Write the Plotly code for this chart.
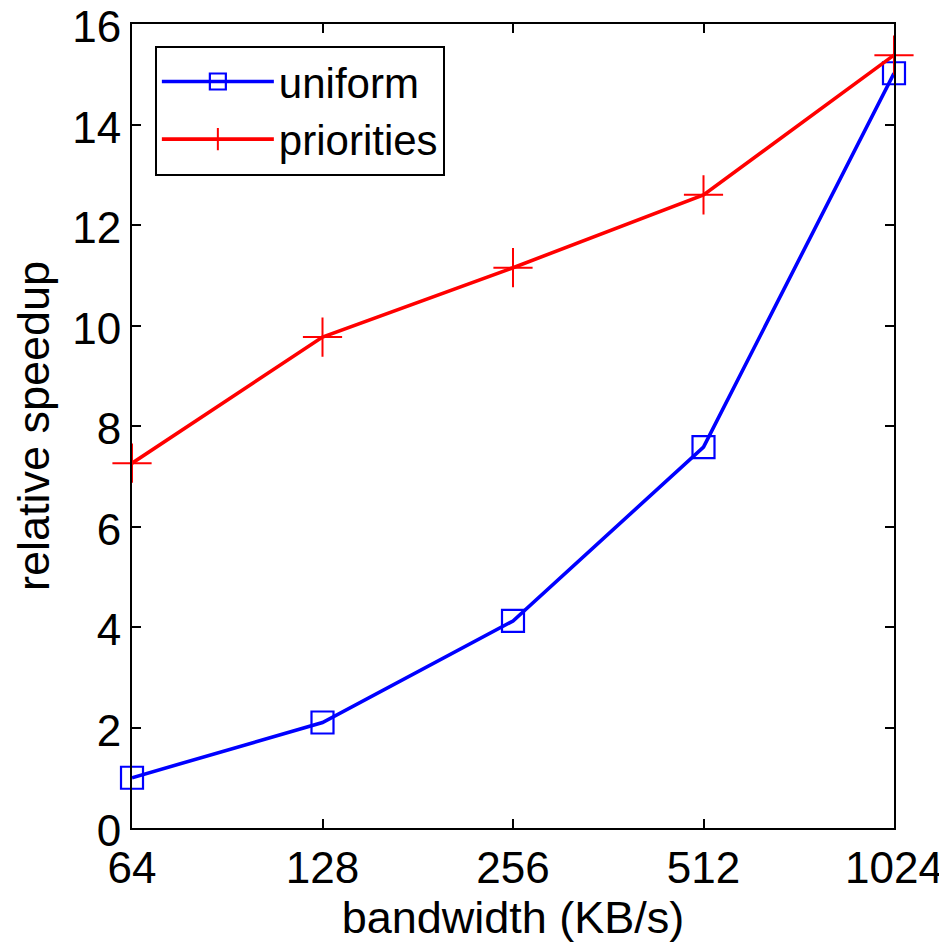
import math
import plotly.graph_objects as go

bandwidth = [64, 128, 256, 512, 1024]
tick_labels = ["64", "128", "256", "512", "1024"]
y_ticks = [0, 2, 4, 6, 8, 10, 12, 14, 16]
uniform = [1.0, 2.1, 4.12, 7.58, 15.02]
priorities = [7.26, 9.77, 11.15, 12.6, 15.38]

font = "Liberation Sans, Arial, Helvetica, sans-serif"

fig = go.Figure()
fig.add_trace(go.Scatter(
    x=bandwidth, y=uniform, name="uniform", mode="lines+markers",
    line=dict(color="#0000ff", width=3.6), cliponaxis=False,
    marker=dict(symbol="square-open", size=22, color="#0000ff", line=dict(width=2.2)),
))
fig.add_trace(go.Scatter(
    x=bandwidth, y=priorities, name="priorities", mode="lines+markers",
    line=dict(color="#ff0000", width=3.6), cliponaxis=False,
    marker=dict(symbol="cross-thin-open", size=28, color="#ff0000", line=dict(width=2, color="#ff0000")),
))

axis_common = dict(
    showline=True, linecolor="black", linewidth=2, mirror="ticks",
    ticks="inside", ticklen=9, tickwidth=2, tickcolor="black",
    showgrid=False, zeroline=False, ticklabeloverflow="allow",
    tickfont=dict(family=font, size=44, color="black"),
)

eps = 1e-5
fig.update_xaxes(
    type="log", range=[math.log10(64) - eps, math.log10(1024) + eps],
    tickvals=bandwidth, ticktext=tick_labels, automargin="bottom",
    title=dict(text="bandwidth (KB/s)", font=dict(family=font, size=45, color="black"), standoff=6),
    **axis_common,
)
fig.update_yaxes(
    range=[0, 16], tickvals=y_ticks, ticklabelshift=3, automargin=False,
    title=dict(text="relative speedup", font=dict(family=font, size=45, color="black"), standoff=8),
    **axis_common,
)

fig.update_layout(
    width=939, height=936,
    margin=dict(l=124, r=53, t=16, b=116),
    paper_bgcolor="white", plot_bgcolor="white",
    font=dict(family=font, color="black"),
    showlegend=True,
    legend=dict(
        x=0.03, y=0.973, xanchor="left", yanchor="top",
        bgcolor="white", bordercolor="black", borderwidth=2,
        font=dict(family=font, size=42, color="black"),
        itemwidth=112, tracegroupgap=0,
    ),
)

fig.write_html("out.html")
